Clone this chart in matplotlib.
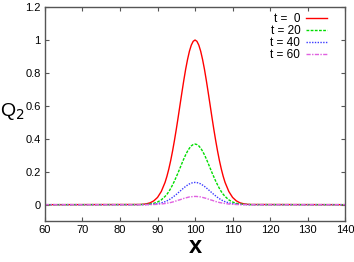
import matplotlib
matplotlib.use("Agg")
import matplotlib.pyplot as plt

# x positions (data units) at which values were read
x_vals = [60, 85, 86, 87, 88, 89, 90, 91, 92, 92.5, 93, 93.5, 94, 94.5, 95, 95.5, 96, 96.5,
          97, 97.5, 98, 98.5, 99, 99.5, 100, 100.5, 101, 101.5, 102, 102.5, 103, 103.5, 104,
          104.5, 105, 105.5, 106, 106.5, 107, 107.5, 108, 109, 110, 111, 112, 113, 114, 115, 140]

q_t0 = [0, 0.001, 0.002, 0.005, 0.011, 0.023, 0.044, 0.080, 0.135, 0.172, 0.216, 0.267, 0.325,
        0.389, 0.458, 0.531, 0.607, 0.682, 0.755, 0.823, 0.882, 0.932, 0.969, 0.992, 1.0,
        0.992, 0.969, 0.932, 0.882, 0.823, 0.755, 0.682, 0.607, 0.531, 0.458, 0.389, 0.325,
        0.267, 0.216, 0.172, 0.135, 0.080, 0.044, 0.023, 0.011, 0.005, 0.002, 0.001, 0]
q_t20 = [0, 0.0004, 0.001, 0.002, 0.004, 0.008, 0.016, 0.029, 0.050, 0.063, 0.079, 0.098, 0.120,
         0.143, 0.169, 0.195, 0.223, 0.251, 0.278, 0.303, 0.325, 0.343, 0.357, 0.365, 0.368,
         0.365, 0.357, 0.343, 0.325, 0.303, 0.278, 0.251, 0.223, 0.195, 0.169, 0.143, 0.120,
         0.098, 0.079, 0.063, 0.050, 0.029, 0.016, 0.008, 0.004, 0.002, 0.001, 0.0004, 0]
q_t40 = [0, 0.0001, 0.0003, 0.0007, 0.0015, 0.003, 0.006, 0.011, 0.018, 0.023, 0.029, 0.036, 0.044,
         0.053, 0.062, 0.072, 0.082, 0.092, 0.102, 0.111, 0.119, 0.126, 0.131, 0.134, 0.135,
         0.134, 0.131, 0.126, 0.119, 0.111, 0.102, 0.092, 0.082, 0.072, 0.062, 0.053, 0.044,
         0.036, 0.029, 0.023, 0.018, 0.011, 0.006, 0.003, 0.0015, 0.0007, 0.0003, 0.0001, 0]
q_t60 = [0, 0, 0.0001, 0.0002, 0.0005, 0.001, 0.002, 0.004, 0.007, 0.009, 0.011, 0.013, 0.016,
         0.019, 0.023, 0.027, 0.030, 0.034, 0.038, 0.041, 0.044, 0.047, 0.048, 0.0496, 0.050,
         0.0496, 0.048, 0.047, 0.044, 0.041, 0.038, 0.034, 0.030, 0.027, 0.023, 0.019, 0.016,
         0.013, 0.011, 0.009, 0.007, 0.004, 0.002, 0.001, 0.0005, 0.0002, 0.0001, 0, 0]

labels = ["t =  0", "t = 20", "t = 40", "t = 60"]
x_ticks = [60, 70, 80, 90, 100, 110, 120, 130, 140]
y_ticks = [0, 0.2, 0.4, 0.6, 0.8, 1, 1.2]
y_tick_labels = ["0", "0.2", "0.4", "0.6", "0.8", "1", "1.2"]

plt.rcParams['font.family'] = ['Liberation Sans', 'DejaVu Sans']

fig = plt.figure(figsize=(3.54, 2.62), dpi=100)
ax = fig.add_axes([0.127, 0.156, 0.848, 0.817])

series = [q_t0, q_t20, q_t40, q_t60]
colors = ['#ff0000', '#00dd00', '#3a3aff', '#e060e0']
styles = ['-', (0, (2, 1)), (0, (1, 1)), (0, (3, 1, 1, 1))]
for ys, lab, c, ls in zip(series, labels, colors, styles):
    ax.plot(x_vals, ys, color=c, linestyle=ls, linewidth=1.0, label=lab)

ax.set_xlim(60, 140)
ax.set_ylim(-0.1, 1.2)
ax.set_xticks(x_ticks)
ax.set_yticks(y_ticks)
ax.set_yticklabels(y_tick_labels)
ax.tick_params(direction='in', length=3, width=0.8, top=True, right=True,
               labelsize=8, pad=3, colors='#555555', labelcolor='black')
for s in ax.spines.values():
    s.set_color('#555555')
    s.set_linewidth(1.0)

ax.set_xlabel('x', fontsize=17, fontweight='bold', labelpad=0)
fig.text(0.0, 0.575, 'Q$_2$', fontsize=14, ha='left', va='center')

leg = ax.legend(loc='upper right', frameon=False, markerfirst=False, fontsize=8.5,
                handlelength=1.8, handletextpad=0.45, labelspacing=0.0,
                borderaxespad=0.0, bbox_to_anchor=(0.955, 0.995))

fig.savefig('out.png', dpi=100)
